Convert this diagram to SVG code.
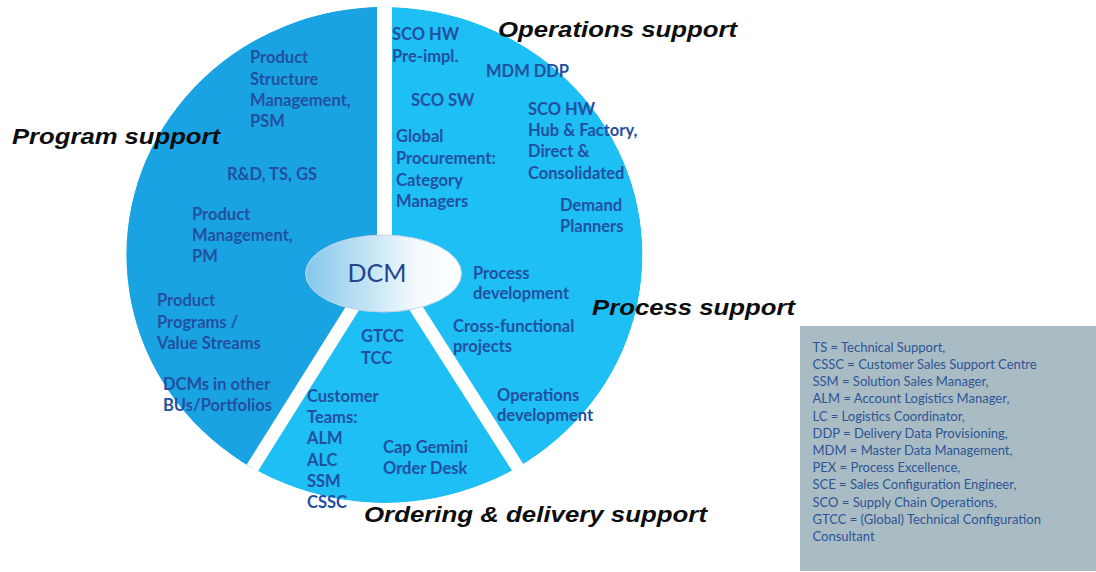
<svg xmlns="http://www.w3.org/2000/svg" width="1096" height="572" viewBox="0 0 1096 572">
  <style>
    .lbl { font-family: Lato, "Open Sans", "Liberation Sans", sans-serif; font-weight: 700; font-size: 16.5px; fill: #22509f; }
    .ttl { font-family: "Liberation Sans", Arial, sans-serif; font-weight: 700; font-style: italic; font-size: 22px; fill: #0d0d0d; }
    .leg { font-family: Lato, "Open Sans", "Liberation Sans", sans-serif; font-size: 13px; fill: #2d5596; }
    .gap { stroke: #ffffff; fill: none; }
  </style>
  <defs>
    <clipPath id="pieClip">
      <ellipse cx="384.5" cy="255" rx="258" ry="248"/>
    </clipPath>
    <linearGradient id="hubFill" x1="0" y1="0" x2="1" y2="0">
      <stop offset="0" stop-color="#84c7ec"/>
      <stop offset="0.7" stop-color="#f3f9fd"/>
      <stop offset="1" stop-color="#ffffff"/>
    </linearGradient>
  </defs>

  <rect x="0" y="0" width="1096" height="572" fill="#ffffff"/>

  <!-- pie: three sectors separated by white gaps -->
  <g id="pie" clip-path="url(#pieClip)">
    <ellipse id="sector-operations-process" cx="384.5" cy="255" rx="258" ry="248" fill="#1dbff5"/>
    <polygon id="sector-program" points="384.5,258 384.5,-20 -100,-20 -100,958 -55,958" fill="#1aa3e3"/>
    <g id="gaps">
      <line class="gap" x1="384.5" y1="-10" x2="384.5" y2="260" stroke-width="15"/>
      <line class="gap" x1="384" y1="258" x2="-55" y2="958" stroke-width="13"/>
      <line class="gap" x1="384" y1="258" x2="831" y2="958" stroke-width="13"/>
    </g>
  </g>

  <!-- central hub -->
  <g id="hub-dcm">
    <ellipse cx="383.5" cy="273.5" rx="78" ry="38.5" fill="url(#hubFill)" stroke="#c3d6e6" stroke-width="1"/>
    <text x="377" y="282" text-anchor="middle" font-family="Lato, 'Open Sans', sans-serif" font-size="25" fill="#23468f">DCM</text>
  </g>

  <!-- Program support sector labels -->
  <g id="program-labels" class="lbl">
    <text x="250" y="63">Product</text>
    <text x="250" y="84.5">Structure</text>
    <text x="250" y="106">Management,</text>
    <text x="250" y="127.3">PSM</text>
    <text x="227" y="179.5">R&amp;D, TS, GS</text>
    <text x="192" y="219.5">Product</text>
    <text x="192" y="241">Management,</text>
    <text x="192" y="262.2">PM</text>
    <text x="157" y="306.2">Product</text>
    <text x="157" y="327.5">Programs /</text>
    <text x="157" y="348.8">Value Streams</text>
    <text x="163" y="390">DCMs in other</text>
    <text x="163" y="411">BUs/Portfolios</text>
  </g>

  <!-- Operations support sector labels -->
  <g id="operations-labels" class="lbl">
    <text x="392" y="40">SCO HW</text>
    <text x="392" y="61.5">Pre-impl.</text>
    <text x="486" y="77">MDM DDP</text>
    <text x="411" y="105.5">SCO SW</text>
    <text x="528" y="114.5">SCO HW</text>
    <text x="528" y="135.8">Hub &amp; Factory,</text>
    <text x="528" y="157.2">Direct &amp;</text>
    <text x="528" y="178.5">Consolidated</text>
    <text x="396" y="142.2">Global</text>
    <text x="396" y="163.8">Procurement:</text>
    <text x="396" y="185.5">Category</text>
    <text x="396" y="207">Managers</text>
    <text x="560" y="210.5">Demand</text>
    <text x="560" y="232">Planners</text>
  </g>

  <!-- Process support sector labels -->
  <g id="process-labels" class="lbl">
    <text x="473" y="279">Process</text>
    <text x="473" y="299.2">development</text>
    <text x="453" y="331.5">Cross-functional</text>
    <text x="453" y="352.2">projects</text>
    <text x="497" y="400.5">Operations</text>
    <text x="497" y="421.2">development</text>
  </g>

  <!-- Ordering & delivery support sector labels -->
  <g id="ordering-labels" class="lbl">
    <text x="361" y="342.2">GTCC</text>
    <text x="361" y="363.5">TCC</text>
    <text x="307" y="401.5">Customer</text>
    <text x="307" y="423">Teams:</text>
    <text x="307" y="444.3">ALM</text>
    <text x="307" y="465.5">ALC</text>
    <text x="307" y="486.8">SSM</text>
    <text x="307" y="508">CSSC</text>
    <text x="383" y="453">Cap Gemini</text>
    <text x="383" y="474">Order Desk</text>
  </g>

  <!-- sector titles -->
  <g id="titles" class="ttl">
    <text id="title-program" x="12" y="143.5" textLength="208" lengthAdjust="spacingAndGlyphs">Program support</text>
    <text id="title-operations" x="498" y="37" textLength="239" lengthAdjust="spacingAndGlyphs">Operations support</text>
    <text id="title-process" x="592" y="315" textLength="203" lengthAdjust="spacingAndGlyphs">Process support</text>
    <text id="title-ordering" x="364" y="521.5" textLength="343" lengthAdjust="spacingAndGlyphs">Ordering &amp; delivery support</text>
  </g>

  <!-- abbreviation legend -->
  <g id="legend">
    <rect x="800" y="326" width="296" height="245" fill="#a9bcc4"/>
    <g class="leg">
      <text x="812.5" y="351.7">TS = Technical Support,</text>
      <text x="812.5" y="368.9">CSSC = Customer Sales Support Centre</text>
      <text x="812.5" y="386.1">SSM  = Solution Sales Manager,</text>
      <text x="812.5" y="403.3">ALM = Account Logistics Manager,</text>
      <text x="812.5" y="420.5">LC = Logistics Coordinator,</text>
      <text x="812.5" y="437.7">DDP = Delivery Data Provisioning,</text>
      <text x="812.5" y="454.9">MDM  = Master Data Management,</text>
      <text x="812.5" y="472.1">PEX = Process Excellence,</text>
      <text x="812.5" y="489.3">SCE = Sales Configuration Engineer,</text>
      <text x="812.5" y="506.5">SCO = Supply Chain Operations,</text>
      <text x="812.5" y="523.7">GTCC = (Global) Technical Configuration</text>
      <text x="812.5" y="540.9">Consultant</text>
    </g>
  </g>
</svg>
